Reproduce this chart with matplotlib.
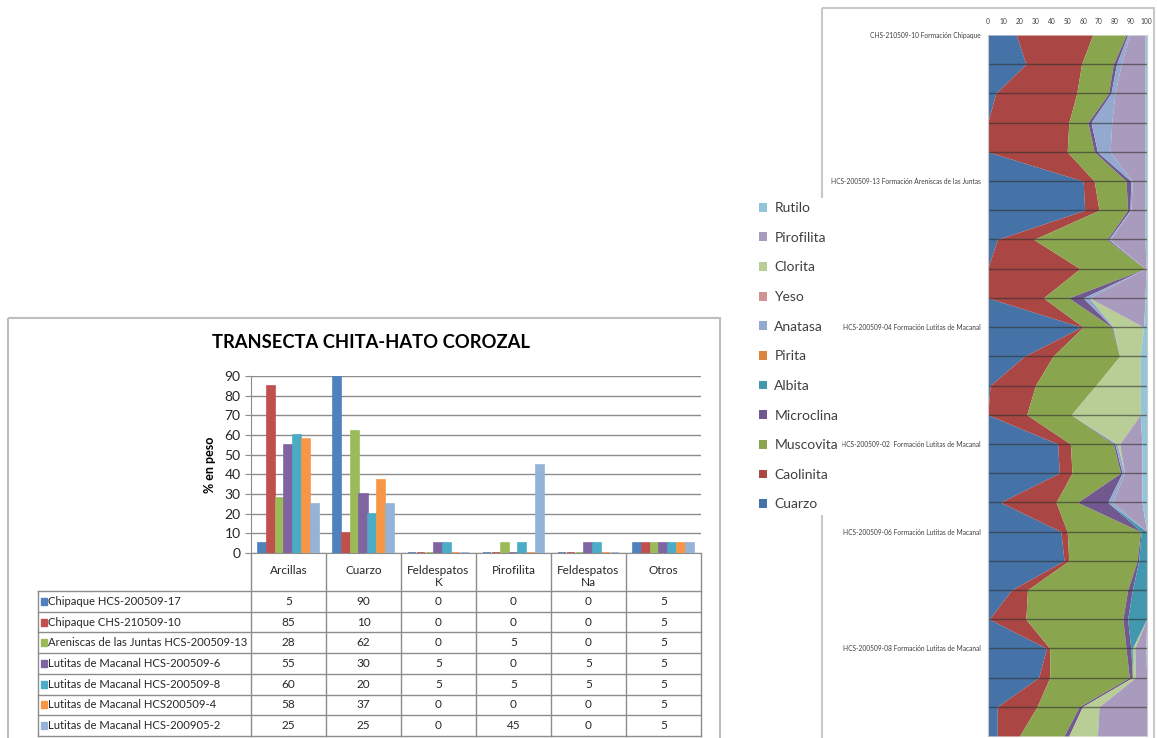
import matplotlib.pyplot as plt
from matplotlib.patches import Rectangle
import numpy as np

plt.rcParams['font.family'] = ['Lato', 'DejaVu Sans']

# ---- datos del grafico de barras / tabla ----
categorias = ['Arcillas', 'Cuarzo', 'Feldespatos\nK', 'Pirofilita', 'Feldespatos\nNa', 'Otros']
muestras = ['Chipaque HCS-200509-17', 'Chipaque CHS-210509-10',
            'Areniscas de las Juntas HCS-200509-13', 'Lutitas de Macanal HCS-200509-6',
            'Lutitas de Macanal HCS-200509-8', 'Lutitas de Macanal HCS200509-4',
            'Lutitas de Macanal HCS-200905-2']
chipaque_17 = [5, 90, 0, 0, 0, 5]
chipaque_10 = [85, 10, 0, 0, 0, 5]
areniscas_13 = [28, 62, 0, 5, 0, 5]
macanal_6 = [55, 30, 5, 0, 5, 5]
macanal_8 = [60, 20, 5, 5, 5, 5]
macanal_4 = [58, 37, 0, 0, 0, 5]
macanal_2 = [25, 25, 0, 45, 0, 5]
valores = [chipaque_17, chipaque_10, areniscas_13, macanal_6, macanal_8, macanal_4, macanal_2]
colores_barras = ['#4F81BD', '#C0504D', '#9BBB59', '#8064A2', '#4BACC6', '#F79646', '#95B3D7']

# ---- datos del perfil (area apilada), una fila por nivel ----
niveles = ['CHS-210509-10 Formación Chipaque', '', '', '', '',
           'HCS-200509-13 Formación Areniscas de las Juntas', '', '', '', '',
           'HCS-200509-04 Formación Lutitas de Macanal', '', '', '',
           'HCS-200509-02  Formación Lutitas de Macanal', '', '',
           'HCS-200509-06 Formación Lutitas de Macanal', '', '', '',
           'HCS-200509-08 Formación Lutitas de Macanal', '', '', '']
minerales = ['Cuarzo', 'Caolinita', 'Muscovita', 'Microclina', 'Albita', 'Pirita',
             'Anatasa', 'Yeso', 'Clorita', 'Pirofilita', 'Rutilo']
cuarzo = [18, 24, 5, 0, 0, 60, 61, 6, 0, 0, 59, 23, 1.5, 0, 44, 45, 8, 46, 48, 15, 1, 37, 32, 6, 6]
caolinita = [48, 35, 51, 51, 50, 7, 9, 23, 58, 35, 1, 18, 28.5, 24.5, 8, 8, 35, 4, 3, 10, 23, 2, 7, 25, 14]
muscovita = [21, 20, 20, 12, 17, 20, 18, 46, 41, 16, 18, 42, 38, 28, 27, 30.5, 13.5, 46, 43, 63, 61, 48, 50, 26.5, 28]
microclina = [1, 2, 1.5, 2, 2, 3, 1.5, 1, 0, 9, 0.5, 0, 0, 0, 1, 1, 19, 0.5, 1, 3, 3, 3, 2, 2, 3]
albita = [0, 0, 0, 0, 0, 0, 0, 0, 0, 0, 0, 0, 0, 0, 0, 0, 0, 3.5, 5, 9, 12, 1, 0, 0, 0]
pirita = [0] * 25
anatasa = [1, 3, 2.5, 13, 8, 1, 0.5, 1, 0, 4, 0.5, 0, 0, 0, 1.5, 1.5, 3, 0, 0, 0, 0, 0, 0, 0, 0]
yeso = [0] * 25
clorita = [0, 0, 0, 0, 0, 0, 0, 0, 0, 0, 19, 13, 28, 43.5, 1.5, 0, 0, 0, 0, 0, 0, 1.5, 2, 10.5, 18]
pirofilita = [10, 15, 19, 21, 22, 8, 9, 22, 0.5, 35, 0, 0, 0, 0, 14, 11, 18.5, 0, 0, 0, 0, 7, 7, 30, 31]
rutilo = [1, 1, 1, 1, 1, 1, 1, 1, 0.5, 1, 2, 4, 4, 4, 3, 3, 3, 0, 0, 0, 0, 0.5, 0, 0, 0]
perfil = [cuarzo, caolinita, muscovita, microclina, albita, pirita,
          anatasa, yeso, clorita, pirofilita, rutilo]
colores_area = ['#4572A7', '#AA4643', '#89A54E', '#71588F', '#4198AF', '#DB843D',
                '#93A9CF', '#D19392', '#B9CD96', '#A99BBD', '#92C5D8']

W, H = 1157, 738
fig = plt.figure(figsize=(W / 100, H / 100), dpi=100)


def box(x0, y0, x1, y1):
    return [x0 / W, 1 - y1 / H, (x1 - x0) / W, (y1 - y0) / H]


# capa de fondo en pixeles para marcos y tabla
bg = fig.add_axes([0, 0, 1, 1])
bg.set_xlim(0, W)
bg.set_ylim(H, 0)
bg.axis('off')
bg.add_patch(Rectangle((8, 318), 712, 430, fill=False, ec='#BFBFBF', lw=1.5))
bg.add_patch(Rectangle((822, 8), 332, 740, fill=False, ec='#C8C8C8', lw=1.5))

# ---- grafico de barras ----
ax = fig.add_axes(box(251, 376, 701, 553))
x = np.arange(len(categorias))
paso = 0.117
for i, serie in enumerate(valores):
    ax.bar(x + (i - 3) * paso, serie, width=0.108, color=colores_barras[i],
           edgecolor=colores_barras[i], linewidth=1.2, zorder=3)
ax.set_xlim(-0.5, 5.5)
ax.set_ylim(0, 90)
ax.set_yticks(range(0, 91, 10))
ax.yaxis.grid(True, color='#8C8C8C', lw=1)
ax.set_axisbelow(True)
ax.set_xticks([])
for s in ['top', 'right']:
    ax.spines[s].set_visible(False)
ax.spines['left'].set_color('#8C8C8C')
ax.spines['bottom'].set_color('#8C8C8C')
ax.tick_params(axis='y', labelsize=10, colors='#8C8C8C', labelcolor='#262626', length=4)
ax.set_ylabel('% en peso', fontsize=9, fontweight='bold', labelpad=6)
fig.text(371 / W, 1 - 342 / H, 'TRANSECTA CHITA-HATO COROZAL', ha='center', va='center',
         fontsize=13.2, fontweight='bold', color='#000000')

# ---- tabla ----
col_x = [251 + 75 * k for k in range(7)]
fila_y = [591 + 20.7 * k for k in range(8)]
gris = '#8C8C8C'
for cx in col_x:
    bg.plot([cx, cx], [553, fila_y[-1]], color=gris, lw=1)
bg.plot([38, 38], [fila_y[0], fila_y[-1]], color=gris, lw=1)
for fy in fila_y:
    bg.plot([38, 701], [fy, fy], color=gris, lw=1)
for j, cat in enumerate(categorias):
    bg.text(col_x[j] + 37.5, 565, cat, ha='center', va='top', fontsize=8.5,
            color='#262626', linespacing=1.15)
for i, nombre in enumerate(muestras):
    yc = (fila_y[i] + fila_y[i + 1]) / 2
    bg.add_patch(Rectangle((41, yc - 3.5), 6, 7, color=colores_barras[i]))
    bg.text(48.5, yc, nombre, ha='left', va='center', fontsize=8.1, color='#262626')
    for j, v in enumerate(valores[i]):
        bg.text(col_x[j] + 37.5, yc, str(v), ha='center', va='center', fontsize=8.5,
                color='#262626')

# ---- perfil apilado ----
ax2 = fig.add_axes(box(987.7, 35, 1146.7, 736))
filas = np.arange(len(niveles))
base = np.zeros(len(niveles))
polys = []
for nombre, serie, c in zip(minerales, perfil, colores_area):
    tope = base + np.array(serie)
    p = ax2.fill_betweenx(filas, base, tope, color=c, lw=0, label=nombre)
    polys.append(p)
    base = tope
ax2.hlines(filas[1:-1], 0, 100, color='#303030', alpha=0.6, lw=1)
ax2.set_xlim(0, 100)
ax2.set_ylim(len(niveles) - 1, 0)
ax2.xaxis.tick_top()
ax2.set_xticks(range(0, 101, 10))
ax2.set_yticks(filas)
ax2.set_yticklabels(niveles)
ax2.tick_params(axis='x', labelsize=4.8, length=0, pad=7, labelcolor='#404040')
ax2.tick_params(axis='y', labelsize=4.75, length=0, pad=5, labelcolor='#404040')
for s in ['top', 'bottom']:
    ax2.spines[s].set_visible(False)
for s in ['left', 'right']:
    ax2.spines[s].set_color('#C8C8C8')

leg = ax2.legend(polys[::-1], minerales[::-1], loc='upper left',
                 bbox_to_anchor=(748 / W, 1 - 191 / H), bbox_transform=fig.transFigure,
                 fontsize=10, labelcolor='#404040', frameon=True, facecolor='white',
                 edgecolor='none', framealpha=1, fancybox=False, borderpad=0.3,
                 handlelength=0.6, handleheight=0.6, handletextpad=0.5, labelspacing=1.27)

fig.savefig('out.png', dpi=100)
